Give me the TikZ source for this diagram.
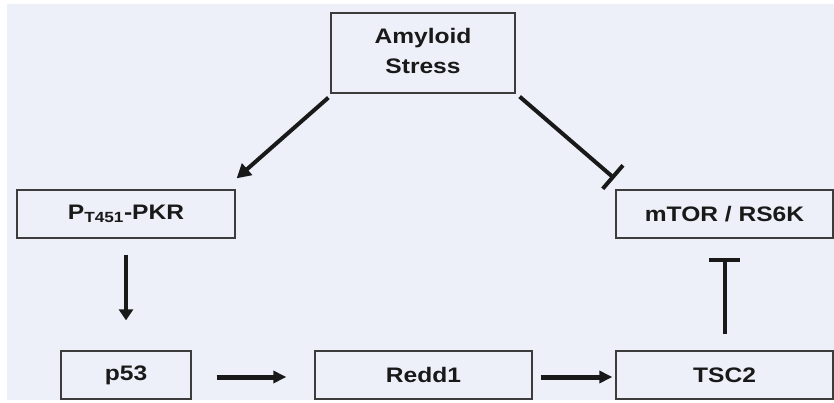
\documentclass[tikz,border=0pt]{standalone}
\usepackage{fontspec}
\setmainfont{Liberation Sans}[FakeStretch=1.17]
\usetikzlibrary{arrows.meta,calc}
\definecolor{panel}{RGB}{237,240,248}
\definecolor{edge}{RGB}{60,60,60}
\definecolor{ink}{RGB}{25,25,25}
\begin{document}
\begin{tikzpicture}[x=1pt,y=-1pt,
  box/.style={draw=edge,line width=1.3pt,fill=panel,inner sep=0pt,
    font=\fontsize{21}{30}\selectfont\bfseries,text=ink,align=center},
  act/.style={draw=ink,line width=4pt,-{Triangle[length=14pt,width=15pt]}},
  actthin/.style={draw=ink,line width=3.5pt,-{Triangle[length=11pt,width=14pt]}},
  acth/.style={draw=ink,line width=5pt,-{Triangle[length=13pt,width=12pt]}},
  inhib/.style={draw=ink,line width=4pt,-{Bar[width=31pt]}}]
  \useasboundingbox (0,0) rectangle (834,403);
  % backdrop panel
  \fill[white] (0,0) rectangle (834,403);
  \fill[panel] (7,4) rectangle (834,400);

  % pathway nodes
  \node[box,minimum width=184pt,minimum height=80pt] (amy) at (423,53)
    {\setlength\tabcolsep{0pt}\raisebox{3pt}{\begin{tabular}{c}Amyloid\\Stress\end{tabular}}};
  \node[box,minimum width=218pt,minimum height=48pt] (pkr) at (126,214)
    {P\textsubscript{T451}-PKR};
  \node[box,minimum width=217pt,minimum height=48pt] (mtor) at (724.5,214)
    {mTOR / RS6K};
  \node[box,minimum width=130pt,minimum height=48pt] (p53) at (126,375) {p53};
  \node[box,minimum width=217pt,minimum height=48pt] (redd) at (423.5,375) {Redd1};
  \node[box,minimum width=217pt,minimum height=48pt] (tsc) at (724.5,375) {TSC2};

  % activating and inhibiting links
  \draw[act] ($(amy.south west)+(-2,4)$) -- ($(pkr.north east)+(1,-11)$);
  \draw[inhib] ($(amy.south east)+(4,3)$) -- ($(mtor.north west)+(-1,-11)$);
  \draw[actthin] ($(pkr.south)+(0,16)$) -- ($(p53.north)+(0,-30)$);
  \draw[acth] ($(p53.east)+(25,2)$) -- ($(redd.west)+(-28,2)$);
  \draw[acth] ($(redd.east)+(8,2)$) -- ($(tsc.west)+(-3,2)$);
  \draw[inhib] ($(tsc.north)+(0,-16)$) -- ($(mtor.south)+(0,19)$);
\end{tikzpicture}
\end{document}
